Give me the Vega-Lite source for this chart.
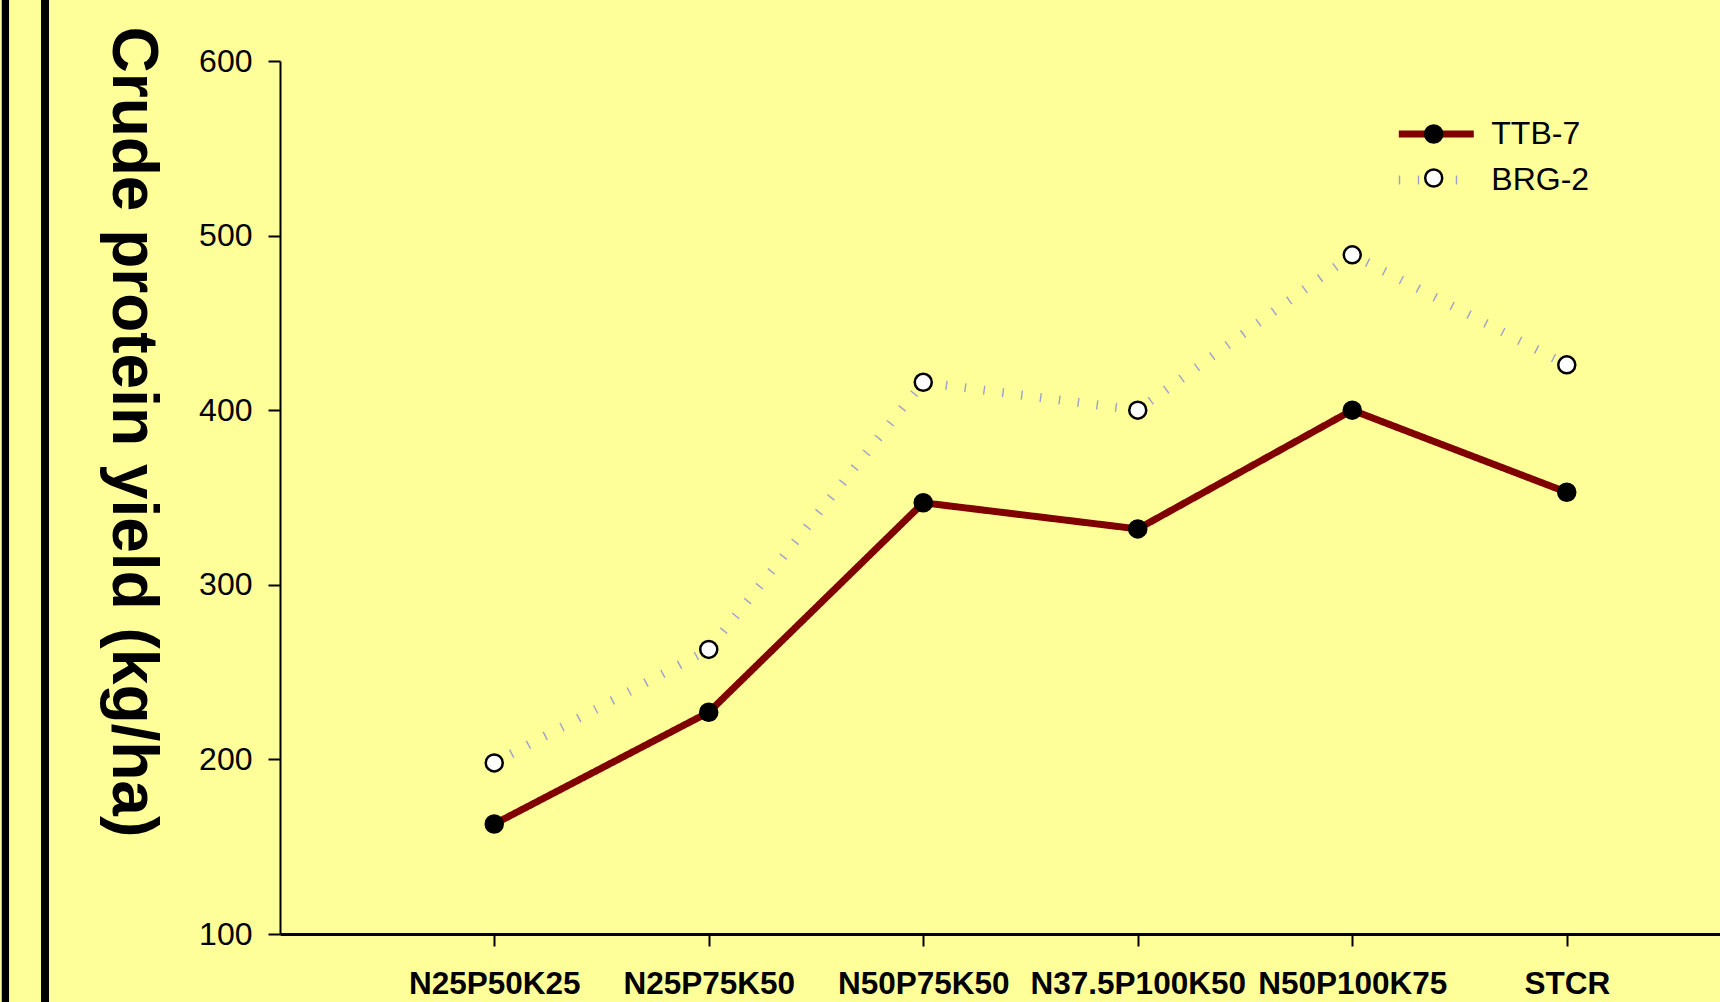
{
  "$schema": "https://vega.github.io/schema/vega-lite/v6.json",
  "width": 1440,
  "height": 873,
  "autosize": {"type": "none"},
  "padding": {"left": 280, "top": 61, "right": 0, "bottom": 68},
  "background": "#FFFF99",
  "config": {"view": {"stroke": null}, "font": "Liberation Sans"},
  "datasets": {
    "frame": [{"side": "outer"}, {"side": "inner"}],
    "yield": [
      {"treatment": "N25P50K25", "variety": "TTB-7", "yield": 163},
      {"treatment": "N25P75K50", "variety": "TTB-7", "yield": 227},
      {"treatment": "N50P75K50", "variety": "TTB-7", "yield": 347},
      {"treatment": "N37.5P100K50", "variety": "TTB-7", "yield": 332},
      {"treatment": "N50P100K75", "variety": "TTB-7", "yield": 400},
      {"treatment": "STCR", "variety": "TTB-7", "yield": 353},
      {"treatment": "N25P50K25", "variety": "BRG-2", "yield": 198},
      {"treatment": "N25P75K50", "variety": "BRG-2", "yield": 263},
      {"treatment": "N50P75K50", "variety": "BRG-2", "yield": 416},
      {"treatment": "N37.5P100K50", "variety": "BRG-2", "yield": 400},
      {"treatment": "N50P100K75", "variety": "BRG-2", "yield": 489},
      {"treatment": "STCR", "variety": "BRG-2", "yield": 426}
    ]
  },
  "layer": [
    {
      "data": {"name": "frame"},
      "mark": {"type": "rule", "color": "black", "clip": false},
      "encoding": {
        "x": {"field": "side", "type": "nominal", "scale": {"type": "point", "domain": ["outer", "inner"], "range": [-274.6, -235], "padding": 0}, "axis": null},
        "y": {"datum": 0, "type": "quantitative", "scale": {"domain": [0, 1], "range": [1000, -100]}, "axis": null},
        "y2": {"datum": 1},
        "strokeWidth": {"field": "side", "type": "nominal", "scale": {"domain": ["outer", "inner"], "range": [7.3, 8]}, "legend": null}
      }
    },
    {
      "data": {"name": "yield"},
      "encoding": {
        "x": {
          "field": "treatment", "type": "nominal", "sort": null,
          "scale": {"type": "point", "padding": 0.8566, "align": 0.583},
          "axis": {
            "title": null, "labelAngle": 0, "labelFont": "Liberation Sans", "labelFontSize": 31.5,
            "labelFontWeight": "bold", "labelColor": "black", "labelPadding": 38, "labelBaseline": "middle",
            "labelOverlap": false, "labelLimit": 0,
            "tickSize": 12, "tickWidth": 2, "tickColor": "black",
            "domainColor": "black", "domainWidth": 3
          }
        },
        "y": {
          "field": "yield", "type": "quantitative",
          "scale": {"domain": [100, 600], "nice": false, "zero": false},
          "axis": {
            "title": "Crude protein yield (kg/ha)", "titleFont": "Liberation Sans", "titleFontSize": 64,
            "titleFontWeight": "bold", "titleColor": "black", "titleAngle": 90, "titleAlign": "left",
            "titleBaseline": "alphabetic", "titleX": -168, "titleY": -35,
            "values": [100, 200, 300, 400, 500, 600], "grid": false,
            "labelFont": "Liberation Sans", "labelFontSize": 32, "labelColor": "black", "labelPadding": 16,
            "tickSize": 12, "tickWidth": 2, "tickColor": "black",
            "domainColor": "black", "domainWidth": 2
          }
        }
      },
      "layer": [
        {
          "mark": {"type": "line"},
          "encoding": {
            "stroke": {
              "field": "variety", "type": "nominal",
              "scale": {"domain": ["TTB-7", "BRG-2"], "range": ["#800000", "#9ba1cc"]},
              "legend": {"title": null, "orient": "none", "legendX": 1140.3, "legendY": 57, "padding": 0,
                "symbolType": "M-3.75,0H3.75", "symbolSize": 400, "labelFont": "Liberation Sans", "labelFontSize": 32,
                "labelColor": "black", "labelOffset": 39, "rowPadding": 12}
            },
            "strokeWidth": {
              "field": "variety", "type": "nominal",
              "scale": {"domain": ["TTB-7", "BRG-2"], "range": [7, 9]},
              "legend": {"title": null, "orient": "none", "legendX": 1140.3, "legendY": 57, "padding": 0,
                "symbolType": "M-3.75,0H3.75", "symbolSize": 400, "labelFont": "Liberation Sans", "labelFontSize": 32,
                "labelColor": "black", "labelOffset": 39, "rowPadding": 12}
            },
            "strokeDash": {
              "field": "variety", "type": "nominal",
              "scale": {"domain": ["TTB-7", "BRG-2"], "range": [[1, 0], [1.4, 17.6]]},
              "legend": {"title": null, "orient": "none", "legendX": 1140.3, "legendY": 57, "padding": 0,
                "symbolType": "M-3.75,0H3.75", "symbolSize": 400, "labelFont": "Liberation Sans", "labelFontSize": 32,
                "labelColor": "black", "labelOffset": 39, "rowPadding": 12}
            }
          }
        },
        {
          "mark": {"type": "circle", "stroke": "black", "strokeWidth": 2.5, "size": 290, "opacity": 1},
          "encoding": {
            "fill": {
              "field": "variety", "type": "nominal",
              "scale": {"domain": ["TTB-7", "BRG-2"], "range": ["black", "white"]},
              "legend": {"title": null, "orient": "none", "legendX": 1137.7, "legendY": 57, "padding": 0,
                "symbolType": "circle", "symbolSize": 290, "symbolStrokeColor": "black", "symbolStrokeWidth": 2.5,
                "symbolOpacity": 1, "labelFontSize": 32, "labelExpr": "''", "rowPadding": 12}
            }
          }
        }
      ],
      "resolve": {"legend": {"fill": "independent", "stroke": "independent", "strokeWidth": "independent", "strokeDash": "independent"}}
    }
  ],
  "resolve": {"scale": {"x": "independent", "y": "independent", "strokeWidth": "independent"}}
}
